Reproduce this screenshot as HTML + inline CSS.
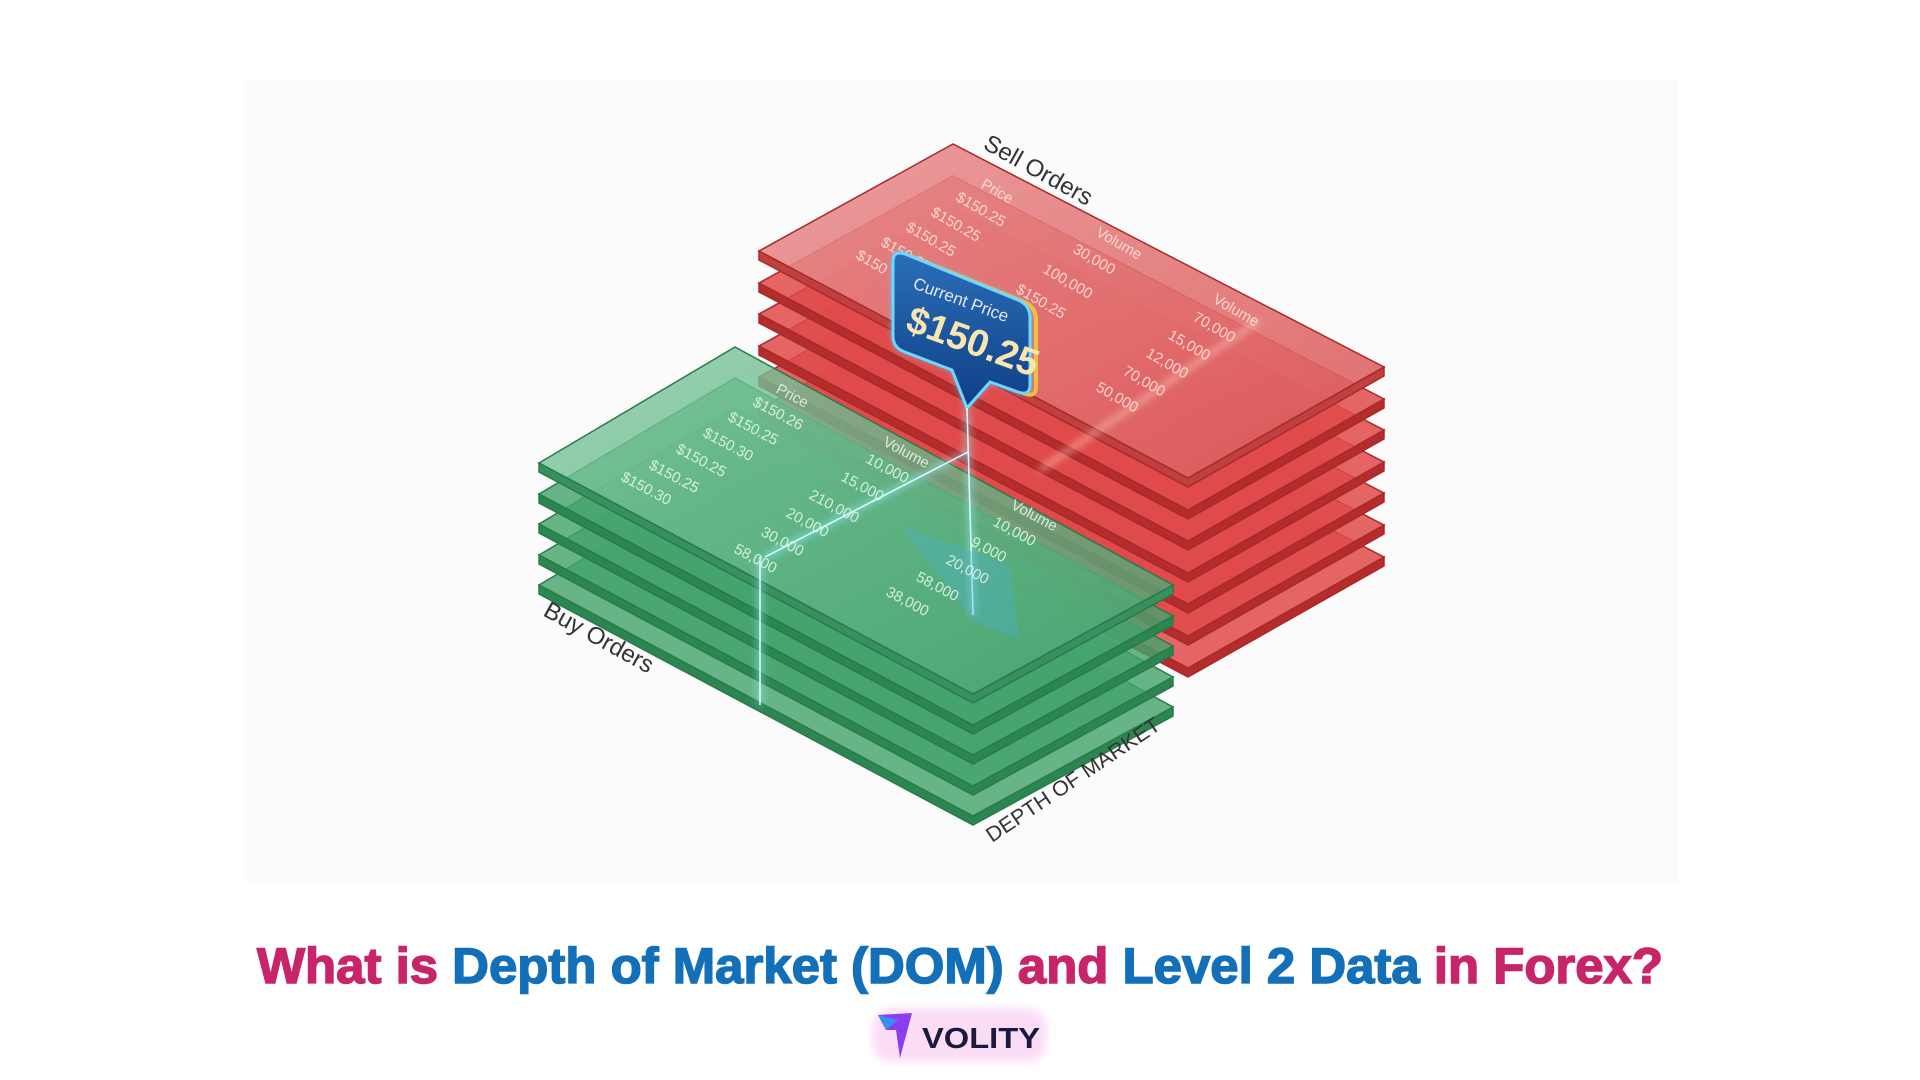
<!DOCTYPE html>
<html><head><meta charset="utf-8"><style>
html,body{margin:0;padding:0;background:#fff;}
svg{display:block}
</style></head><body>
<svg width="1920" height="1080" viewBox="0 0 1920 1080" xmlns="http://www.w3.org/2000/svg" font-family="Liberation Sans, sans-serif">
<defs>
<filter id="blur" x="-50%" y="-50%" width="200%" height="200%"><feGaussianBlur stdDeviation="4"/></filter>
<linearGradient id="rg" x1="0" y1="0" x2="1" y2="1"><stop offset="0" stop-color="#e89090"/><stop offset="1" stop-color="#dc5858"/></linearGradient>
<linearGradient id="gg" x1="0" y1="0" x2="1" y2="1"><stop offset="0" stop-color="#80c8a0"/><stop offset="1" stop-color="#48a470"/></linearGradient>
<linearGradient id="cb" x1="0" y1="0" x2="0" y2="1"><stop offset="0" stop-color="#2a6fb8"/><stop offset="1" stop-color="#0f3f86"/></linearGradient>
<g id="rp"><polygon points="759,251 759,260 1188,487 1384,376 1384,367 1188,478" fill="#b52c2c"/><polygon points="759,251 953,144 1384,367 1188,478" fill="#e04a4a" fill-opacity="0.85"/></g>
<g id="gp"><polygon points="539,463 539,472 973,703 1173,594 1173,585 973,694" fill="#2c8652"/><polygon points="539,463 735,347 1173,585 973,694" fill="#46a46c" fill-opacity="0.82"/></g>
</defs>
<rect x="245" y="80" width="1433" height="802" fill="#fbfbfb"/>

<!-- red stack -->
<g stroke="#a82a2a" stroke-width="1.5">
<use href="#rp" transform="translate(0,190)"/>
<use href="#rp" transform="translate(0,158)"/>
<use href="#rp" transform="translate(0,126)"/>
<use href="#rp" transform="translate(0,95)"/>
<use href="#rp" transform="translate(0,63)"/>
<use href="#rp" transform="translate(0,32)"/>
<g><polygon points="759,251 759,260 1188,487 1384,376 1384,367 1188,478" fill="#c04040"/><polygon points="759,251 953,144 1384,367 1188,478" fill="url(#rg)" fill-opacity="0.88"/></g>
</g>
<line x1="1040" y1="470" x2="1260" y2="320" stroke="#ffd0c0" stroke-width="3" filter="url(#blur)"/>

<!-- red text -->
<g fill="#fde0dc" font-size="15" opacity="0.9">
<text transform="translate(980,187) rotate(30)">Price</text>
<text transform="translate(955,200) rotate(30)">$150.25</text>
<text transform="translate(930,215) rotate(30)">$150.25</text>
<text transform="translate(905,230) rotate(30)">$150.25</text>
<text transform="translate(880,245) rotate(30)">$150.25</text>
<text transform="translate(855,258) rotate(30)">$150</text>
<text transform="translate(1095,235) rotate(30)">Volume</text>
<text transform="translate(1072,252) rotate(30)">30,000</text>
<text transform="translate(1042,272) rotate(30)">100,000</text>
<text transform="translate(1015,292) rotate(30)">$150.25</text>
<text transform="translate(1212,302) rotate(30)">Volume</text>
<text transform="translate(1192,320) rotate(30)">70,000</text>
<text transform="translate(1167,338) rotate(30)">15,000</text>
<text transform="translate(1145,356) rotate(30)">12,000</text>
<text transform="translate(1122,374) rotate(30)">70,000</text>
<text transform="translate(1095,390) rotate(30)">50,000</text>
</g>

<!-- callout -->
<g>
<path d="M893,262 Q893,250 905,254 L1018,300 Q1030,305 1030,318 L1030,385 Q1030,396 1018,392 L990,382 L967,408 L952,370 L905,352 Q893,348 893,336 Z" fill="#5fd0ff" filter="url(#blur)" opacity="0.8"/>
<path d="M900,262 Q900,252 910,256 L1024,302 Q1036,307 1036,320 L1036,387 Q1036,397 1026,394 L1000,384" fill="none" stroke="#f0c040" stroke-width="4"/>
<path d="M893,262 Q893,250 905,254 L1018,300 Q1030,305 1030,318 L1030,385 Q1030,396 1018,392 L990,382 L967,408 L952,370 L905,352 Q893,348 893,336 Z" fill="url(#cb)" stroke="#6ad8ff" stroke-width="3"/>
<text transform="translate(912,288) rotate(20)" fill="#e8e8f0" font-size="17">Current Price</text>
<text transform="translate(904,330) rotate(20)" fill="#f8e6b0" font-size="38" font-weight="bold">$150.25</text>
</g>

<!-- green stack -->
<g stroke="#2a7a4a" stroke-width="1.5">
<use href="#gp" transform="translate(0,122)"/>
<use href="#gp" transform="translate(0,92)"/>
<use href="#gp" transform="translate(0,61)"/>
<use href="#gp" transform="translate(0,31)"/>
<g><polygon points="539,463 539,472 973,703 1173,594 1173,585 973,694" fill="#389060"/><polygon points="539,463 735,347 1173,585 973,694" fill="url(#gg)" fill-opacity="0.8"/></g>
</g>
<!-- glow lines -->
<g stroke="#8ef4ff" stroke-width="3" filter="url(#blur)">
<line x1="967" y1="408" x2="973" y2="615"/>
<line x1="765" y1="557" x2="968" y2="452"/>
<line x1="760" y1="557" x2="760" y2="705"/>
</g>
<g stroke="#e0ffff" stroke-width="1.5">
<line x1="967" y1="408" x2="973" y2="615"/>
<line x1="765" y1="557" x2="968" y2="452"/>
<line x1="760" y1="557" x2="760" y2="705"/>
</g>
<path d="M900,525 L1010,565 L1020,640 L975,622 Z" fill="#4ab0d0" opacity="0.35"/>

<!-- green text -->
<g fill="#e2f5e8" font-size="15" opacity="0.9">
<text transform="translate(775,392) rotate(28)">Price</text>
<text transform="translate(752,405) rotate(28)">$150.26</text>
<text transform="translate(727,420) rotate(28)">$150.25</text>
<text transform="translate(702,436) rotate(28)">$150.30</text>
<text transform="translate(675,452) rotate(28)">$150.25</text>
<text transform="translate(648,468) rotate(28)">$150.25</text>
<text transform="translate(620,480) rotate(28)">$150.30</text>
<text transform="translate(882,445) rotate(28)">Volume</text>
<text transform="translate(865,462) rotate(28)">10,000</text>
<text transform="translate(840,480) rotate(28)">15,000</text>
<text transform="translate(808,498) rotate(28)">210,000</text>
<text transform="translate(785,516) rotate(28)">20,000</text>
<text transform="translate(760,535) rotate(28)">30,000</text>
<text transform="translate(733,552) rotate(28)">58,000</text>
<text transform="translate(1010,508) rotate(28)">Volume</text>
<text transform="translate(992,525) rotate(28)">10,000</text>
<text transform="translate(970,545) rotate(28)">9,000</text>
<text transform="translate(945,563) rotate(28)">20,000</text>
<text transform="translate(915,580) rotate(28)">58,000</text>
<text transform="translate(885,595) rotate(28)">38,000</text>
</g>

<!-- labels -->
<text transform="translate(982,148) rotate(29)" font-size="24" fill="#333">Sell Orders</text>
<text transform="translate(542,615) rotate(29)" font-size="24" fill="#333">Buy Orders</text>
<text transform="translate(992,843) rotate(-34)" font-size="21" fill="#333" textLength="205" lengthAdjust="spacingAndGlyphs">DEPTH OF MARKET</text>

<!-- title -->
<text x="257" y="983" font-size="50" font-weight="bold" stroke-width="1.5" textLength="1406" lengthAdjust="spacingAndGlyphs"><tspan fill="#c8246a" stroke="#c8246a">What is </tspan><tspan fill="#1370b8" stroke="#1370b8">Depth of Market (DOM) </tspan><tspan fill="#c8246a" stroke="#c8246a">and </tspan><tspan fill="#1370b8" stroke="#1370b8">Level 2 Data </tspan><tspan fill="#c8246a" stroke="#c8246a">in Forex?</tspan></text>

<!-- logo -->
<g>
<rect x="872" y="1008" width="175" height="54" rx="20" fill="#f8c8ef" opacity="0.6" filter="url(#blur)"/>
<path d="M878,1015 L912,1013 L900,1058 L896,1030 L886,1030 Z" fill="#8a3ef0"/>
<path d="M878,1015 L898,1020 L886,1030 Z" fill="#3a8ef0"/>
<text x="922" y="1048" font-size="29" font-weight="bold" fill="#1a1a3e" textLength="118" lengthAdjust="spacingAndGlyphs">VOLITY</text>
</g>
</svg>
</body></html>
